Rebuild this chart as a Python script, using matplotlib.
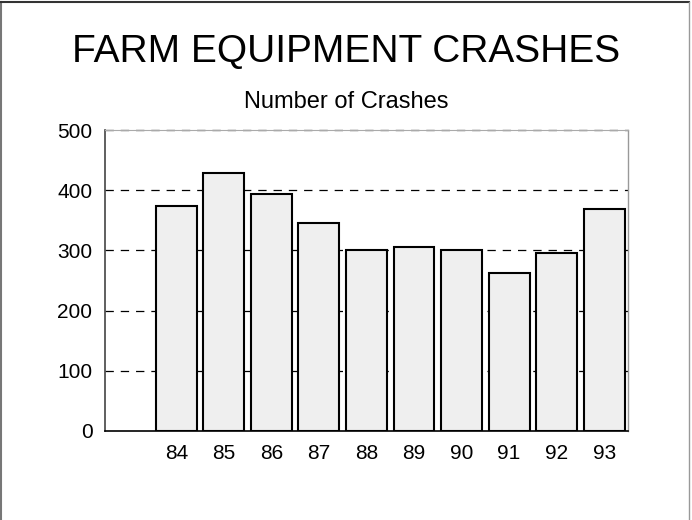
import matplotlib
matplotlib.use("Agg")
import matplotlib.pyplot as plt
from matplotlib.lines import Line2D

years = [84, 85, 86, 87, 88, 89, 90, 91, 92, 93]
crashes = [374, 429, 394, 345, 300, 305, 301, 262, 296, 368]
y_ticks = [0, 100, 200, 300, 400, 500]

plt.rcParams['font.family'] = ['Liberation Sans', 'DejaVu Sans']
plt.rcParams['lines.scale_dashes'] = False

fig = plt.figure(figsize=(6.92, 5.2), dpi=100)
ax = fig.add_axes([0.1517, 0.1712, 0.7558, 0.5788])

ax.bar(years, crashes, width=0.86, color='#efefef', edgecolor='black',
       linewidth=1.5, zorder=3)

ax.set_xlim(82.5, 93.5)
ax.set_ylim(0, 500)
ax.set_xticks(years)
ax.set_yticks(y_ticks)
ax.tick_params(length=0, labelsize=15)
ax.tick_params(axis='y', pad=9)
ax.tick_params(axis='x', pad=9.5)

# dashed grid, drawn behind the bars (500 sits on the top spine)
for v in y_ticks[1:]:
    ax.axhline(v, color='black', linewidth=0.9, dashes=(6, 5), zorder=2,
               clip_on=False)

ax.spines['left'].set_color('#444444')
ax.spines['left'].set_linewidth(1.2)
ax.spines['bottom'].set_color('black')
ax.spines['bottom'].set_linewidth(1.2)
ax.spines['top'].set_color('#aaaaaa')
ax.spines['right'].set_color('#999999')
ax.spines['right'].set_linewidth(1.0)

fig.text(0.5, 0.881, 'FARM EQUIPMENT CRASHES', ha='center', va='baseline',
         fontsize=28)
fig.text(0.5, 0.792, 'Number of Crashes', ha='center', va='baseline',
         fontsize=17)

# frame round the figure
fig.add_artist(Line2D([0.001, 0.001], [0, 0.997], color='#777777', linewidth=1.5))
fig.add_artist(Line2D([0.001, 0.995], [0.997, 0.997], color='#333333', linewidth=1.5))
fig.add_artist(Line2D([0.995, 0.995], [0, 0.997], color='#999999', linewidth=1.0))

fig.savefig('out.png', dpi=100)
